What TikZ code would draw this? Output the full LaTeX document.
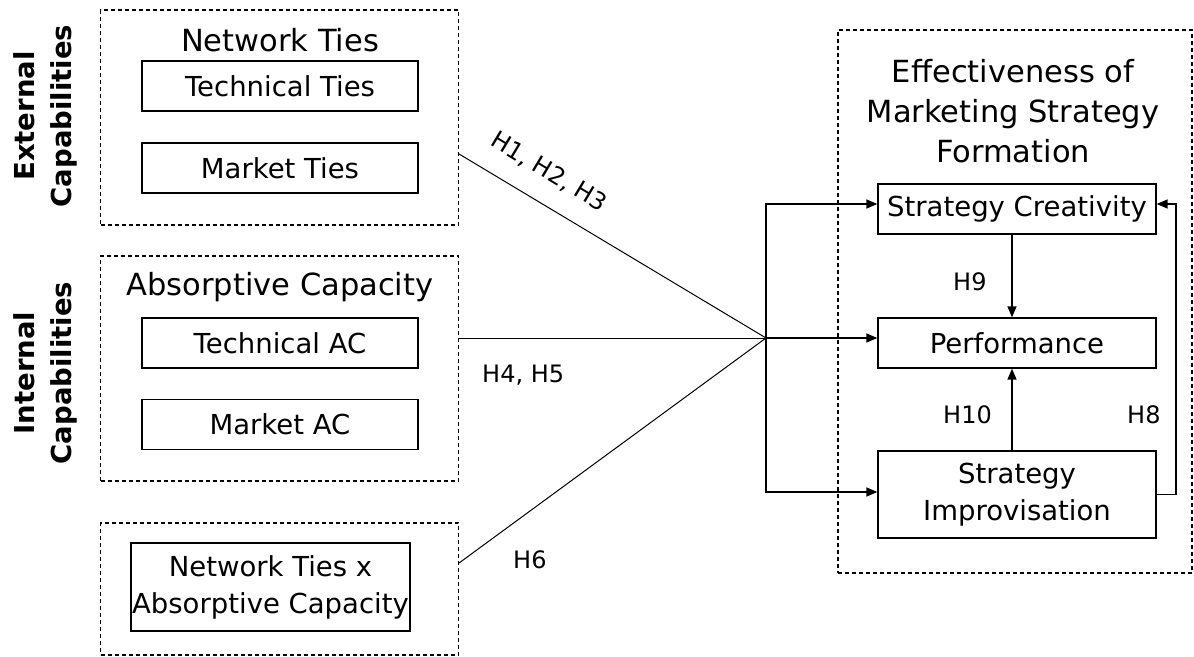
\documentclass[tikz,border=0pt]{standalone}
\usepackage{fontspec}
\setmainfont{DejaVu Sans}
\usetikzlibrary{arrows.meta}
\begin{document}
\begin{tikzpicture}[x=1pt,y=-1pt,
  dbox/.style={draw, dash pattern=on 4pt off 3pt, line width=1.1pt, inner sep=0pt, minimum width=358pt},
  ibox/.style={draw, line width=1.3pt, inner sep=0pt, align=center, font=\fontsize{27.5}{37}\selectfont},
  ttl/.style={font=\fontsize{30.5}{41}\selectfont, align=center, inner sep=0pt},
  hl/.style={font=\fontsize{24}{28}\selectfont, inner sep=0pt},
  side/.style={font=\bfseries\fontsize{27.5}{37}\selectfont, align=center, rotate=90, inner sep=0pt},
  conn/.style={line width=1pt},
  arr/.style={line width=1.5pt, -{Triangle[length=11pt,width=9pt]}}]
\useasboundingbox (0,0) rectangle (1194,656);

% left groups
\node[dbox, minimum height=215pt] (ext) at (279.5,117.5) {};
\node[ttl, anchor=base] (ntt) at (280,51) {Network Ties};
\node[ibox, minimum width=276pt, minimum height=50pt] (tt) at (280,86) {Technical Ties};
\node[ibox, minimum width=276pt, minimum height=50pt] (mt) at (280,168) {Market Ties};

\node[dbox, minimum height=225pt] (int) at (279.5,368.5) {};
\node[ttl, anchor=base] (act) at (280,295) {Absorptive Capacity};
\node[ibox, minimum width=276pt, minimum height=50pt] (tac) at (280,343) {Technical AC};
\node[ibox, minimum width=276pt, minimum height=50pt] (mac) at (280,424.5) {Market AC};

\node[dbox, minimum height=132pt] (mod) at (279.5,589) {};
\node[ibox, minimum width=279pt, minimum height=88pt] (ntac) at (270.5,587) {Network Ties x\\Absorptive Capacity};

\node[side] (extl) at (45,116) {External\\Capabilities};
\node[side] (intl) at (45,373) {Internal\\Capabilities};

% right group
\node[draw, dash pattern=on 4pt off 3pt, line width=1.1pt, minimum width=354pt, minimum height=543pt, inner sep=0pt] (eff) at (1015,301.5) {};
\node[ttl, anchor=base] (t1) at (1013,82) {Effectiveness of};
\node[ttl, anchor=base] (t2) at (1013,122) {Marketing Strategy};
\node[ttl, anchor=base] (t3) at (1013,162) {Formation};
\node[ibox, minimum width=278pt, minimum height=50pt] (sc) at (1017,209) {Strategy Creativity};
\node[ibox, minimum width=278pt, minimum height=50pt] (perf) at (1017,343) {Performance};
\node[ibox, minimum width=278pt, minimum height=87pt] (imp) at (1017,494.5) {Strategy\\Improvisation};

% connectors
\coordinate (J) at (766,338);
\coordinate (ct) at (766,204);
\coordinate (cb) at (766,492);
\coordinate (lr) at (1176,494.5);

\draw[conn] ([yshift=-36.5pt]ext.east) -- (J);
\draw[conn] ([yshift=30.5pt]int.east) -- (J);
\draw[conn] ([yshift=26pt]mod.east) -- (J);

\draw[arr] (J) -- (ct) -- (ct -| sc.west);
\draw[arr] (J) -- (cb) -- (cb -| imp.west);
\draw[arr] (J) -- (J -| perf.west);
\draw[arr] ([xshift=-5pt]sc.south) -- ([xshift=-5pt]perf.north);
\draw[arr] ([xshift=-5pt]imp.north) -- ([xshift=-5pt]perf.south);
\draw[arr] (imp.east) -- (lr) -- (lr |- ct) -- (ct -| sc.east);

% labels
\node[hl, rotate=-31] (h123) at (549,172) {H1, H2, H3};
\node[hl, anchor=base west] (h45) at (482,382) {H4, H5};
\node[hl, anchor=base west] (h6) at (513,568) {H6};
\node[hl, anchor=base west] (h9) at (953,290) {H9};
\node[hl, anchor=base west] (h10) at (943,423) {H10};
\node[hl, anchor=base west] (h8) at (1127,423) {H8};
\end{tikzpicture}
\end{document}
